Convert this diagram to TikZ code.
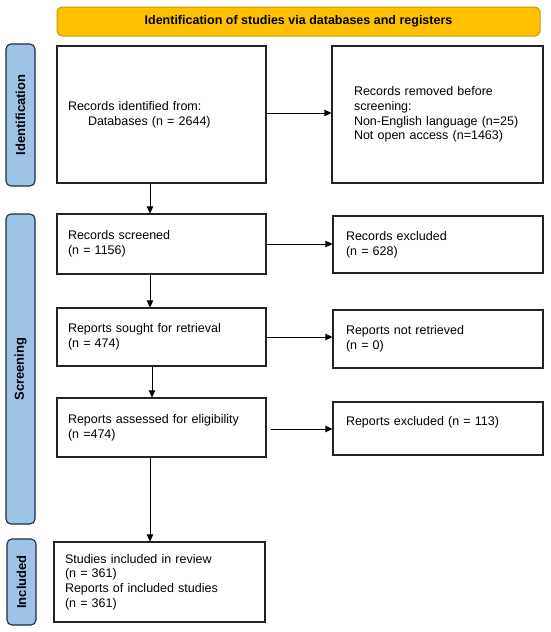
\documentclass[tikz,border=0pt]{standalone}
\usepackage{fontspec}
\setmainfont{Liberation Sans}
\usetikzlibrary{arrows.meta}
\definecolor{bannerfill}{HTML}{FFC000}
\definecolor{bannerdraw}{HTML}{C49A00}
\definecolor{labfill}{HTML}{9DC3E6}
\definecolor{labdraw}{HTML}{1F2B3A}
\definecolor{boxdraw}{HTML}{222222}
\begin{document}
\begin{tikzpicture}[x=1pt,y=-1pt,
  every node/.style={font=\fontsize{12.5}{14.7}\selectfont},
  box/.style={draw=boxdraw, line width=1.2pt, align=left, inner ysep=0pt, anchor=center},
  sidelab/.style={draw=labdraw, fill=labfill, line width=1.1pt, rounded corners=5pt, rotate=90,
    inner sep=0pt, font=\fontsize{13}{15}\selectfont\bfseries, anchor=center},
  arr/.style={line width=0.9pt, draw=black, -{Triangle[length=7pt,width=6.5pt]}}
]
\useasboundingbox (0,0) rectangle (550,632);
\fill[white] (0,0) rectangle (550,632);

% banner
\node[draw=bannerdraw, fill=bannerfill, line width=1pt, rounded corners=5pt,
  minimum width=483pt, minimum height=29pt, inner sep=0pt, font=\fontsize{12.5}{15}\selectfont\bfseries]
  (ban) at (298.5,21.5) {Identification of studies via databases and registers};

% side labels
\node[sidelab, minimum width=142pt, minimum height=29pt] (lid) at (20.5,115) {Identification};
\node[sidelab, minimum width=310pt, minimum height=29pt] (lsc) at (20.5,369) {Screening};
\node[sidelab, minimum width=86pt, minimum height=29pt] (lin) at (21.5,582) {Included};

% boxes
\node[box, inner xsep=11pt, text width=187pt, minimum height=137pt] (id) at (161.5,114.5)
  {Records identified from:\\\hspace*{20pt}Databases (n = 2644)};
\node[box, inner xsep=22pt, text width=167pt, minimum height=137pt] (rem) at (437.5,114.5)
  {Records removed before\\screening:\\Non-English language (n=25)\\Not open access (n=1463)};

\node[box, inner xsep=11pt, text width=187pt, minimum height=60pt] (scr) at (161.5,244)
  {Records screened\\(n = 1156)};
\node[box, inner xsep=13pt, text width=184pt, minimum height=57pt] (exc) at (438,244.5)
  {Records excluded\\(n = 628)};

\node[box, inner xsep=11pt, text width=187pt, minimum height=58pt] (sou) at (161.5,337)
  {Reports sought for retrieval\\(n = 474)};
\node[box, inner xsep=13pt, text width=184pt, minimum height=58pt] (nre) at (438,339)
  {Reports not retrieved\\(n = 0)};

\node[box, inner xsep=11pt, text width=187pt, minimum height=59pt] (ass) at (161.5,427.5)
  {Reports assessed for eligibility\\(n =474)};
\node[box, inner xsep=13pt, text width=184pt, minimum height=53pt] (rex) at (438,428.5)
  {Reports excluded (n = 113)\\\mbox{}};

\node[box, inner xsep=11pt, text width=189pt, minimum height=80pt] (inc) at (159.5,582)
  {Studies included in review\\(n = 361)\\Reports of included studies\\(n = 361)};

% connectors
\coordinate (ax) at (150,0);
\coordinate (bx) at (152,0);
\draw[arr] ([yshift=1.5pt]id.east) -- ([yshift=1.5pt]id.east -| rem.west);
\draw[arr] (scr.east) -- (scr.east -| exc.west);
\draw[arr] (sou.east) -- (sou.east -| nre.west);
\draw[arr] ([xshift=4pt,yshift=-1.5pt]ass.east) -- ([yshift=-1.5pt]ass.east -| rex.west);

\draw[arr] (id.south -| ax) -- (scr.north -| ax);
\draw[arr] (scr.south -| ax) -- (sou.north -| ax);
\draw[arr] (sou.south -| bx) -- (ass.north -| bx);
\draw[arr] (ass.south -| ax) -- (inc.north -| ax);
\end{tikzpicture}
\end{document}
